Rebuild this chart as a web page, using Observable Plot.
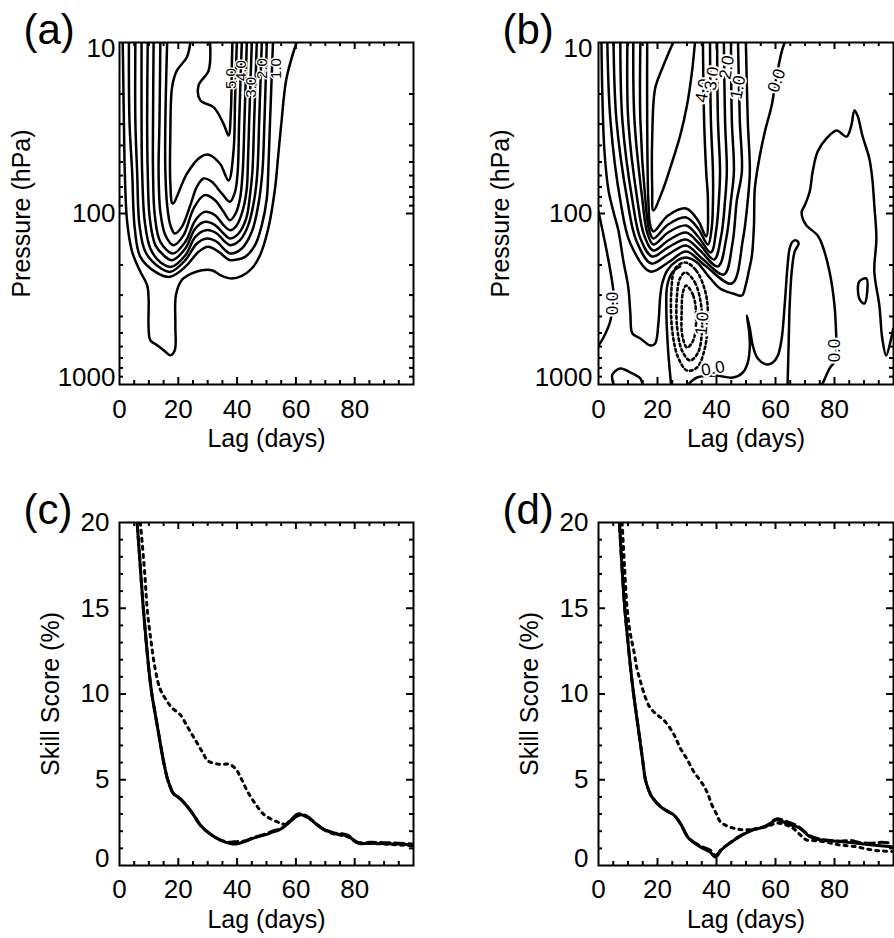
<!DOCTYPE html>
<html><head><meta charset="utf-8">
<script src="https://cdn.jsdelivr.net/npm/d3@7"></script>
<script src="https://cdn.jsdelivr.net/npm/@observablehq/plot@0.6"></script>
<style>
body{margin:0;background:#fff;}
#root{position:relative;width:894px;height:938px;overflow:hidden;background:#fff;font-family:"Liberation Sans",Arial,Helvetica,sans-serif;}
.panel{position:absolute;}
</style></head><body><div id="root"></div>
<script>
// ---------- axes / ticks ----------
const lagDomain = [0, 100];
const pressureDomain = [10, 1000];
const skillDomain = [0, 20];
const lagTickLabels = [0, 20, 40, 60, 80];
const lagMinorTicks = [5,10,15,25,30,35,45,50,55,65,70,75,85,90,95];
const lagMajorTicks = [20,40,60,80];
const pressureTickLabels = [10, 100, 1000];
const pressureMinorTicks = [20,30,40,50,60,70,80,90,200,300,400,500,600,700,800,900];
const skillTickLabels = [0, 5, 10, 15, 20];
const skillMinorTicks = [1,2,3,4,6,7,8,9,11,12,13,14,16,17,18,19];
const skillMajorTicks = [5,10,15];

// ---------- panel (a) contours: [lag (days), pressure (hPa)] ----------
const aZero = [[1.1,10],[1.5,29.1],[1.8,57],[2.6,112],[4.3,167.5],[7.1,219.4],[9.4,262.6],[9.9,314],[9.9,470],[10.5,551],[12.8,589],[15.0,630],[17.3,674],[18.8,630],[19.0,450],[19.2,300],[21.2,245],[24.6,224],[28.0,214.5],[31.4,214.5],[34.8,231.5],[38.2,240],[41.6,231.5],[45.0,209.7],[47.8,175.3],[50.6,122.4],[52.9,71.4],[54.0,45.6],[55.1,29.1],[56.8,16.2],[60.2,10]];
const aU8 = [[3.2,10],[3.4,29.1],[4.3,57],[5.2,122.4],[7.1,179.2],[12.2,219.4],[17.1,234.6],[22.4,205],[26.9,167.5],[30.1,156.6],[33.7,167.5],[36.5,183.3],[37.6,187.5],[42.7,179.2],[46.1,153.1],[48.4,117],[50.1,81.7],[50.6,57],[51.2,29.1],[52.2,10]];
const aU7 = [[5.4,10],[5.4,29.1],[6.0,57],[6.8,117],[8.8,167.5],[13.3,205],[17.3,219.4],[22.4,187.5],[26.3,149.8],[29.7,140],[33.1,146.4],[35.9,163.8],[37.6,171.3],[41.6,160.2],[45.0,128],[47.2,89.4],[48.6,57],[49.3,29.1],[50.1,10]];
const aU6 = [[7.5,10],[7.5,29.1],[7.7,57],[8.6,112],[10.5,160.2],[13.9,193],[17.6,205],[22.4,175.3],[25.8,136.9],[29.4,125.2],[33.1,130.9],[35.9,146.4],[37.6,153.1],[41.0,143.2],[43.8,117],[45.9,81.7],[46.9,57],[47.5,29.1],[48.4,10]];
const aU5 = [[9.6,10],[9.4,29.1],[9.6,57],[10.3,106.9],[12.2,153.1],[15.0,175.3],[17.9,187.5],[22.4,160.2],[25.8,122.4],[29.2,111.9],[32.5,117],[35.4,130.9],[37.6,140],[40.5,130.9],[43.1,106.9],[44.4,78.1],[45.2,57],[45.8,29.1],[46.7,10]];
const aU4 = [[11.6,10],[11.4,29.1],[11.4,57],[12.0,102.3],[13.9,146.4],[18.2,171.3],[22.4,146.4],[25.8,109.4],[28.9,97.8],[32.5,102.3],[35.4,117],[37.6,125.2],[39.9,117],[42.1,93.5],[43.3,71.4],[43.6,57],[44.1,29.1],[45.0,10]];
const aU3 = [[13.9,10],[13.6,29.1],[13.3,57],[13.9,97.8],[15.6,133.9],[18.4,153.1],[21.8,133.9],[25.2,93.5],[28.9,78.1],[32.5,83.6],[35.4,97.8],[37.6,109.4],[39.5,100],[41.0,81.7],[41.9,57],[42.5,29.1],[43.3,10]];
const aU2 = [[16.2,10],[15.6,29.1],[15.6,57],[16.2,89.4],[17.3,117],[18.8,130.9],[21.2,119.7],[24.1,89.4],[26.3,69.8],[28.6,62.4],[31.4,65.3],[34.8,76.4],[37.6,85.4],[39.3,74.7],[40.2,57],[40.7,29.1],[41.6,10]];
const aU1 = [[24.1,10],[22.9,12.2],[19.5,14.6],[17.9,18.2],[17.3,34.2],[17.3,67],[18.1,87.4],[22.9,58.6],[27.5,46.8],[30.3,45.3],[34.2,51.2],[37.1,64.1],[38.8,42.8],[39.3,21.8],[39.9,10]];
const aTongue = [[30.8,10],[30.3,14.6],[26.9,17.8],[27.5,21.8],[32.0,23.9],[35.4,29.9],[37.1,35.0],[37.9,25.0],[38.2,13.9],[38.4,10]];
const aLabelLag = [38.0, 41.4, 44.7, 48.5, 53.2];
const aLabelP = [16.25, 14.6, 18.3, 14.2, 14.2];
const aLabelText = ["5.0", "4.0", "3.0", "2.0", "1.0"];

// ---------- panel (b) contours ----------
const bZero = [[1.0,10],[1.35,21.8],[2.0,42.8],[3.4,73.4],[5.4,102.7],[6.75,125.7],[8.4,188.3],[10.1,270.8],[10.8,384.4],[11.5,503.2],[14.2,538.3],[17.55,591.5],[19.2,575.7],[20.3,439.9],[20.9,309.8],[21.6,256.8],[23.3,215.4],[26.7,188.3],[29.7,180.9],[33.4,193.4],[36.8,227.3],[41.2,274.5],[45.6,293.6],[48.6,301.6],[49.96,260.2],[51.0,215.4],[52.0,176.1],[52.7,117.5],[53.0,71.4],[54.7,45.8],[56.4,33.2],[58.7,23.35],[60.1,16.7],[62.1,11.3],[63.1,10]];
const bV1 = [[25.3,10],[21.6,14.2],[19.2,18.6],[18.2,36.4],[18.2,71.4],[18.6,96],[21.6,74.4],[25.0,49.7],[27.7,35.0],[30.0,23.3],[31.7,14.8],[32.7,10]];
const bP2 = [[16.5,10],[16.5,28.6],[16.9,83.9],[17.55,117.5],[18.6,127.4],[23.6,102.7],[29.7,93.5],[33.75,110],[36.5,136.3],[37.1,83.9],[36.5,56.8],[35.8,28.6],[35.4,10]];
const bP3 = [[14.2,10],[14.2,28.6],[15.9,83.9],[17.2,125.7],[18.6,140],[23.6,115.9],[29.7,105.5],[33.75,122.4],[37.1,151.8],[38.4,120],[38.8,83.9],[38.8,56.8],[38.1,28.6],[37.8,10]];
const bP4 = [[11.8,10],[12.2,28.6],[14.9,83.9],[16.5,129.1],[18.6,151.8],[23.6,129.1],[29.7,117.5],[33.75,136.3],[38.1,169.1],[39.9,125],[40.8,83.9],[41.2,56.8],[40.5,28.6],[40.2,10]];
const bP5 = [[9.8,10],[10.1,28.6],[13.2,83.9],[15.5,134.5],[18.6,164.6],[23.6,143.9],[29.7,129.1],[34.1,149.8],[39.2,185.8],[41.6,135],[42.9,83.9],[43.5,56.8],[42.9,28.6],[42.5,10]];
const bP6 = [[7.4,10],[8.1,28.6],[11.5,83.9],[14.2,140],[18.2,178.5],[23.6,158],[29.7,141.9],[34.4,164.6],[40.5,204.2],[43.3,140],[44.9,83.9],[45.9,56.8],[45.2,28.6],[44.9,10]];
const bP7 = [[5.1,10],[6.1,28.6],[9.8,83.9],[12.8,143.9],[17.9,196.1],[23.6,173.7],[29.7,153.8],[35.1,183.4],[42.5,227.3],[45.4,150],[46.9,83.9],[48.6,56.8],[47.9,28.6],[47.3,10]];
const bP8 = [[3.0,10],[4.05,28.6],[7.4,83.9],[10.8,149.8],[17.55,218.4],[23.6,193.4],[29.7,166.8],[36.1,201.4],[45.2,256.8],[48.9,143.9],[50.6,83.9],[51.3,56.8],[50.6,28.6],[49.96,10]];
const bEdge = [[0,97.3],[2.4,153.8],[4.05,218.4],[5.1,301.6],[4.05,422.4],[1.7,531.1],[0,591.5]];
const bFoot = [[5.1,1000],[4.7,874],[7.4,806.3],[10.8,850.8],[14.2,922.3],[14.9,1000]];
const bStem = [[24.6,1000],[23.6,632.7],[23.0,369.2],[23.3,263.6],[25.0,221.3],[27.7,204.2]];
const bSpike = [[30.4,1000],[33.4,910],[39.5,886],[45.6,910],[48.9,851],[50.6,744],[51.3,592],[51.0,483],[50.3,395],[51.3,470],[52.3,592],[54.0,705],[57.0,764],[59.1,744],[60.8,677],[62.1,538],[63.1,345],[64.1,201],[64.8,160],[65.8,146],[67.2,144],[67.85,150],[66.5,167],[65.5,218],[64.8,345],[64.5,538],[64.1,1000]];
const bMountain = [[75.5,1000],[75.9,986.7],[78.3,806.3],[80.7,704.7],[80.7,615.9],[80.0,345],[78.3,218.4],[75.9,153.8],[74.3,134.5],[70.5,117.5],[69.2,106.9],[68.9,97.3],[69.9,89.8],[71.6,74.4],[72.6,56.8],[74.3,43.4],[77.3,36.4],[80.7,32.7],[84.1,35.5],[85.7,30.6],[86.75,25.0],[87.8,26.7],[89.45,35.0],[91.8,47.7],[92.8,62.4],[93.5,89.8],[94.2,140],[93.5,218.4],[95.2,345],[96.2,538.3],[97.5,676.9],[99.2,538.3],[99.9,470.5]];
const bIsland = [[88.4,250],[90.8,240],[91.1,286],[90.1,336],[88.4,314]];
const bNeg1 = [[29.4,193.4],[33.1,215.4],[36.1,282],[37.1,384.4],[36.1,607.6],[33.4,795.5],[30.0,828.2],[27.0,695.4],[25.0,483.3],[24.7,282],[26.0,210]];
const bNeg2 = [[29.4,221.3],[32.7,253.3],[34.8,345],[35.1,483.3],[33.75,650],[31.05,723.9],[28.3,632.7],[26.6,451.9],[26.6,301.6],[27.6,240]];
const bNeg3 = [[29.7,263.6],[32.1,301.6],[33.1,411.2],[32.1,552.9],[30.0,607.6],[28.4,517],[28.2,369.2],[28.6,289.7]];
const bLabelLag = [35.4, 38.5, 43.5, 47.3, 60.4, 4.7, 35.1, 38.8, 80.0];
const bLabelP = [19.1, 16.25, 14.0, 18.3, 16.7, 336, 440, 806, 633];
const bLabelText = ["4.0", "3.0", "2.0", "1.0", "0.0", "0.0", "1.0", "0.0", "0.0"];
const bLabelAngle = [-80, -80, -80, -80, -70, -90, -85, -10, -90];

// ---------- panel (c) skill score: [lag, %] ----------
const cSolid = [[6,20],[7,17.6],[8,15.2],[9,13.2],[10,11.4],[11,10],[12.5,8.5],[14.4,6.6],[15.3,5.8],[16.4,5],[17.5,4.5],[18.3,4.2],[20.6,3.9],[23,3.45],[25,3.0],[27.3,2.4],[29.6,2.0],[32.9,1.6],[35,1.42],[37.4,1.3],[39,1.25],[40.8,1.3],[43,1.42],[45.3,1.58],[47.5,1.7],[49.8,1.8],[52,1.95],[54,2.05],[55.4,2.18],[57,2.4],[58.8,2.67],[60.5,2.9],[61.6,2.96],[63,2.9],[64.4,2.77],[66,2.55],[67.8,2.3],[69.5,2.1],[71.1,1.99],[73,1.85],[75.6,1.8],[77.9,1.7],[79.5,1.5],[81.2,1.3],[85.7,1.3],[90,1.28],[95,1.25],[99.5,1.2]];
const cDashed = [[6,20],[7,17.6],[8,15.2],[9,13.2],[10,11.4],[11,10],[12.5,8.5],[14.4,6.6],[15.3,5.8],[16.4,5],[18.3,4.2],[20.6,3.9],[23,3.45],[25,3.0],[27.3,2.4],[29.6,2.0],[32.9,1.62],[35,1.45],[37.4,1.35],[39,1.38],[40.8,1.4],[43,1.45],[45.3,1.62],[47.5,1.72],[49.8,1.85],[52,2.0],[54,2.1],[55.4,2.2],[57,2.45],[58.8,2.75],[60.5,3.0],[61.6,3.02],[63,2.95],[64.4,2.8],[66,2.55],[67.8,2.3],[69.5,2.12],[71.1,2.0],[73,1.9],[75.6,1.85],[77.9,1.75],[79.5,1.5],[81.2,1.35],[85.7,1.35],[90,1.33],[95,1.3],[99.5,1.25]];
const cDotted = [[7.1,20],[8.6,17],[9.4,15],[10.7,13.1],[12.1,11.5],[13.8,10.3],[16.1,9.6],[17.8,9.2],[20.6,8.8],[23.4,8.0],[26.2,7.2],[28.4,6.55],[30.1,6.1],[34,5.9],[37.4,5.9],[39.7,5.6],[41.3,5.1],[43.6,4.3],[46.4,3.55],[49.2,2.96],[52,2.67],[54.8,2.47],[56.5,2.4],[58.8,2.7],[61.6,2.95],[64.4,2.75],[67.8,2.3],[71.1,1.95],[75.6,1.75],[78,1.65],[81.2,1.3],[85.7,1.28],[90,1.25],[95,1.2],[99.5,1.15]];

// ---------- panel (d) ----------
const dSolid = [[7.1,20],[8,17.3],[8.9,15],[10,13],[11,11.3],[11.9,10],[13,8.6],[13.9,7.5],[15,6.1],[15.9,5.0],[17,4.4],[18.1,4.0],[20.9,3.45],[23,3.2],[25.4,2.96],[27.7,2.47],[30.5,1.6],[34.4,1.1],[37.8,0.78],[39.7,0.49],[41.7,0.92],[44.5,1.3],[47.9,1.7],[52.4,2.08],[56.9,2.28],[60.3,2.67],[62.5,2.55],[64.8,2.38],[68.2,2.18],[71.5,1.7],[74.9,1.5],[81.7,1.4],[87.3,1.3],[92.9,1.2],[99.4,1.1]];
const dDashed = [[7.1,20],[8,17.3],[8.9,15],[10,13],[11,11.3],[11.9,10],[13,8.6],[13.9,7.5],[15,6.1],[15.9,5.0],[17,4.4],[18.1,4.0],[20.9,3.45],[23,3.2],[25.4,2.96],[27.7,2.47],[30.5,1.62],[34.4,1.15],[37.8,0.9],[39.7,0.6],[41.7,0.95],[44.5,1.32],[47.9,1.72],[52.4,2.1],[56.9,2.32],[60.3,2.72],[62.5,2.65],[64.8,2.5],[67.5,2.3],[71.5,1.75],[74.9,1.55],[81.7,1.42],[86,1.45],[88,1.35],[92.9,1.3],[96,1.35],[99.4,1.3]];
const dDotted = [[8.0,20],[8.8,17.5],[9.7,15],[10.8,13.5],[12,12.5],[13,11.5],[14.2,10.75],[15.9,9.8],[17.5,9.2],[19.8,8.8],[22,8.5],[24.3,8.0],[26,7.5],[27.7,6.85],[30,6.2],[32.2,5.5],[35.5,4.7],[37,4.2],[38.4,3.55],[40,3.0],[41.2,2.57],[43,2.35],[45.7,2.18],[48,2.1],[50.2,2.08],[52.5,2.1],[54.7,2.18],[57.5,2.3],[60.3,2.47],[63,2.4],[65.9,2.18],[68,1.85],[70.4,1.5],[73,1.45],[76,1.4],[79,1.3],[81.7,1.2],[84.5,1.15],[87.3,1.1],[90,1.0],[92.9,0.9],[96,0.85],[99.4,0.82]];

// ---------- helpers ----------
const FONT = '"Liberation Sans", Arial, Helvetica, sans-serif';
const STYLE = {fontFamily: FONT, fontSize: "26px", color: "black", background: "white", overflow: "visible"};
const W = 447;
const TICK_FONT = 26, TITLE_FONT = 25;
const flat = (list) => list.flatMap(([id, pts]) => pts.map(([lag, v]) => ({id, lag, v})));
const zipLabels = (lags, ps, texts, angles) => lags.map((l, i) => ({lag: l, v: ps[i], t: texts[i], r: angles ? angles[i] : -90}));

function frameTicks(plotW, plotH, yMinor, yMajor) {
  const minor = 4, major = 7, sw = 2;
  return [
    Plot.tickX(lagMinorTicks, {x: d => d, stroke: "black", strokeWidth: sw, insetTop: plotH - minor}),
    Plot.tickX(lagMinorTicks, {x: d => d, stroke: "black", strokeWidth: sw, insetBottom: plotH - minor}),
    Plot.tickX(lagMajorTicks, {x: d => d, stroke: "black", strokeWidth: sw, insetTop: plotH - major}),
    Plot.tickX(lagMajorTicks, {x: d => d, stroke: "black", strokeWidth: sw, insetBottom: plotH - major}),
    Plot.tickY(yMinor, {y: d => d, stroke: "black", strokeWidth: sw, insetRight: plotW - minor}),
    Plot.tickY(yMinor, {y: d => d, stroke: "black", strokeWidth: sw, insetLeft: plotW - minor}),
    Plot.tickY(yMajor, {y: d => d, stroke: "black", strokeWidth: sw, insetRight: plotW - major}),
    Plot.tickY(yMajor, {y: d => d, stroke: "black", strokeWidth: sw, insetLeft: plotW - major}),
    Plot.frame({stroke: "black", strokeWidth: 2})
  ];
}

function titleMarks(yLabel, yDx, letter, lagDy) {
  return [
    Plot.text(["Lag (days)"], {text: d => d, frameAnchor: "bottom", dy: lagDy, textAnchor: "middle", lineAnchor: "middle", fontSize: TITLE_FONT}),
    Plot.text([yLabel], {text: d => d, frameAnchor: "left", dx: yDx, rotate: -90, textAnchor: "middle", lineAnchor: "middle", fontSize: TITLE_FONT}),
    Plot.text([letter], {text: d => d, frameAnchor: "top-left", dx: -96, dy: -12, textAnchor: "start", lineAnchor: "middle", fontSize: 42})
  ];
}

function contourPanel({solid, closed, dotted, labels, letter, mLeft, mRight, halo, labelSize, yPad}) {
  const H = 470, mTop = 42, mBottom = 86;
  const plotW = W - mLeft - mRight, plotH = H - mTop - mBottom;
  const lineOpts = {x: "lag", y: "v", z: "id", stroke: "black", strokeWidth: 2.5, strokeLinejoin: "round", clip: true};
  return Plot.plot({
    width: W, height: H, marginTop: mTop, marginBottom: mBottom, marginLeft: mLeft, marginRight: mRight,
    x: {domain: lagDomain}, y: {type: "log", domain: pressureDomain, reverse: true},
    style: STYLE,
    marks: [
      Plot.line(flat(solid), {...lineOpts, curve: "catmull-rom"}),
      Plot.line(flat(closed), {...lineOpts, curve: "catmull-rom-closed"}),
      Plot.line(flat(dotted), {...lineOpts, curve: "catmull-rom-closed", strokeWidth: 2.6, strokeDasharray: "2.6,3"}),
      Plot.text(labels, {x: "lag", y: "v", text: "t", rotate: "r", fontSize: labelSize, fill: "black", stroke: "white", strokeWidth: halo, fontFamily: FONT}),
      ...frameTicks(plotW, plotH, pressureMinorTicks, [100]),
      Plot.axisX(lagTickLabels, {tickSize: 0, tickPadding: 15, fontSize: TICK_FONT, label: null, tickFormat: d => String(d)}),
      Plot.axisY([100], {tickSize: 0, tickPadding: yPad, fontSize: TICK_FONT, label: null, tickFormat: d => String(d)}),
      Plot.axisY([10], {tickSize: 0, tickPadding: yPad, fontSize: TICK_FONT, label: null, dy: 6, tickFormat: d => String(d)}),
      Plot.axisY([1000], {tickSize: 0, tickPadding: yPad, fontSize: TICK_FONT, label: null, dy: -7, tickFormat: d => String(d)}),
      ...titleMarks("Pressure (hPa)", -98, letter, 54)
    ]
  });
}

function skillPanel({solid, dashed, dotted, letter, mLeft, mRight}) {
  const H = 468, mTop = 52, mBottom = 73;
  const plotW = W - mLeft - mRight, plotH = H - mTop - mBottom;
  const lineOpts = {x: d => d[0], y: d => d[1], stroke: "black", strokeWidth: 3, curve: "catmull-rom", clip: true};
  return Plot.plot({
    width: W, height: H, marginTop: mTop, marginBottom: mBottom, marginLeft: mLeft, marginRight: mRight,
    x: {domain: lagDomain}, y: {domain: skillDomain},
    style: STYLE,
    marks: [
      Plot.line(dashed, {...lineOpts, strokeDasharray: "9,5"}),
      Plot.line(dotted, {...lineOpts, strokeDasharray: "3,5"}),
      Plot.line(solid, {...lineOpts}),
      ...frameTicks(plotW, plotH, skillMinorTicks, skillMajorTicks),
      Plot.axisX(lagTickLabels, {tickSize: 0, tickPadding: 14, fontSize: TICK_FONT, label: null, tickFormat: d => String(d)}),
      Plot.axisY([5, 10, 15, 20], {tickSize: 0, tickPadding: 10, fontSize: TICK_FONT, label: null, tickFormat: d => String(d)}),
      Plot.axisY([0], {tickSize: 0, tickPadding: 10, fontSize: TICK_FONT, label: null, dy: -7, tickFormat: d => String(d)}),
      ...titleMarks("Skill Score (%)", -69, letter, 54)
    ]
  });
}

const root = document.getElementById("root");
function place(node, left, top) {
  const div = document.createElement("div");
  div.className = "panel";
  div.style.left = left + "px";
  div.style.top = top + "px";
  div.appendChild(node);
  root.appendChild(div);
}

place(contourPanel({
  solid: [["zero", aZero], ["u8", aU8], ["u7", aU7], ["u6", aU6], ["u5", aU5], ["u4", aU4], ["u3", aU3], ["u2", aU2], ["u1", aU1], ["tongue", aTongue]],
  closed: [], dotted: [],
  labels: zipLabels(aLabelLag, aLabelP, aLabelText),
  letter: "(a)", mLeft: 119, mRight: 34, halo: 2.5, labelSize: 15, yPad: 4
}), 0, 0);

place(contourPanel({
  solid: [["zero", bZero], ["v1", bV1], ["p2", bP2], ["p3", bP3], ["p4", bP4], ["p5", bP5], ["p6", bP6], ["p7", bP7], ["p8", bP8], ["edge", bEdge], ["foot", bFoot], ["stem", bStem], ["spike", bSpike], ["mountain", bMountain]],
  closed: [["island", bIsland]],
  dotted: [["n1", bNeg1], ["n2", bNeg2], ["n3", bNeg3]],
  labels: zipLabels(bLabelLag, bLabelP, bLabelText, bLabelAngle),
  letter: "(b)", mLeft: 151, mRight: 1, halo: 4, labelSize: 17, yPad: 6
}), 447, 0);

place(skillPanel({solid: cSolid, dashed: cDashed, dotted: cDotted, letter: "(c)", mLeft: 119, mRight: 34}), 0, 470);
place(skillPanel({solid: dSolid, dashed: dDashed, dotted: dDotted, letter: "(d)", mLeft: 151, mRight: 1}), 447, 470);
</script></body></html>
